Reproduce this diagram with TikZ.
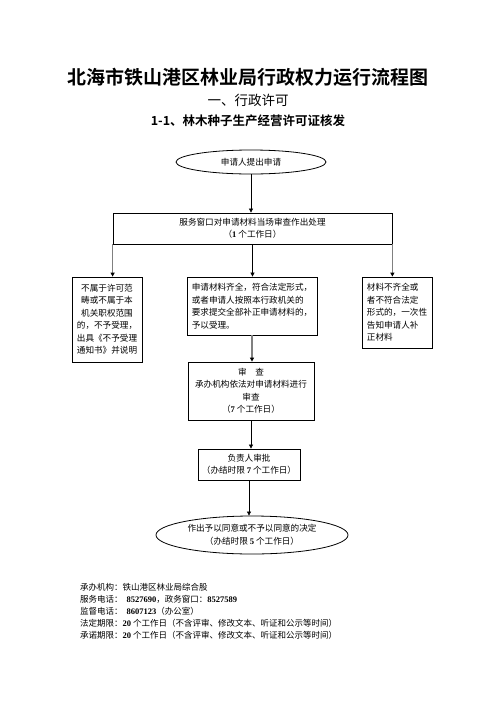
\documentclass[tikz,border=0pt]{standalone}
\usepackage{fontspec}
\usepackage{tikz}
\usetikzlibrary{arrows.meta,positioning,shapes.geometric,calc}
\newfontfamily\cjk[BoldFont={Noto Sans CJK SC Bold}]{Noto Sans CJK SC}
\newfontfamily\digf{Liberation Serif}
\newcommand{\dg}[1]{{\digf\bfseries #1}}

\begin{document}
\begin{tikzpicture}[
    x=1pt, y=-1pt,
    every node/.style={font=\cjk\fontsize{8.6}{12.5}\selectfont, inner sep=0pt},
    box/.style={draw, line width=0.8pt, align=center},
    oval/.style={draw, ellipse, line width=0.8pt, align=center},
    arr/.style={-{Triangle[length=4pt,width=4pt]}, line width=0.7pt},
    garr/.style={-{Triangle[length=4pt,width=4pt,color=black]}, line width=1.6pt, draw=black!50}
  ]
  \useasboundingbox (0,0) rectangle (496,702);

  % headings
  \node[font=\cjk\bfseries\fontsize{19}{19}\selectfont] (title) at (248,77) {北海市铁山港区林业局行政权力运行流程图};
  \node[font=\cjk\fontsize{13.5}{14}\selectfont] (sub) at (248,100) {一、行政许可};
  \node[font=\cjk\bfseries\fontsize{12.5}{13}\selectfont] (item) at (248,121) {1-1、林木种子生产经营许可证核发};

  % flow
  \node[oval, minimum width=150pt, minimum height=24pt] (apply) at (251,162) {申请人提出申请};
  \node[box, minimum width=279pt, minimum height=31pt] (window) at (252.5,228.5) {服务窗口对申请材料当场审查作出处理\\（\dg{1} 个工作日）};
  \node[box, minimum width=70pt, minimum height=85pt] (reject) at (107,319.5) {不属于许可范\\畴或不属于本\\机关职权范围\\的，不予受理，\\出具《不予受理\\通知书》并说明};
  \node[box, minimum width=130pt, minimum height=58pt, align=left] (accept) at (252,306) {申请材料齐全，符合法定形式，\\或者申请人按照本行政机关的\\要求提交全部补正申请材料的，\\予以受理。};
  \node[box, minimum width=70pt, minimum height=71pt, align=left] (notify) at (397,312.5) {材料不齐全或\\者不符合法定\\形式的，一次性\\告知申请人补\\正材料};
  \node[box, minimum width=126pt, minimum height=58pt] (review) at (251,391) {审\quad 查\\承办机构依法对申请材料进行\\审查\\（\dg{7} 个工作日）};
  \node[box, minimum width=102pt, minimum height=31pt] (approve) at (249,464.5) {负责人审批\\（办结时限 \dg{7} 个工作日）};
  \node[oval, minimum width=192pt, minimum height=38pt] (decide) at (252,535) {作出予以同意或不予以同意的决定\\（办结时限 \dg{5} 个工作日）};

  \draw[arr] (apply.south) -- (apply.south |- window.north);
  \draw[garr] (window.south west) -- (window.south west |- reject.north);
  \draw[arr] (window.south) -- (window.south |- accept.north);
  \draw[garr] (window.south east) -- (window.south east |- notify.north);
  \draw[garr] (accept.south) -- (accept.south |- review.north);
  \draw[arr] (review.south) -- (review.south |- approve.north);
  \draw[arr] (approve.south) -- (approve.south |- decide.north);

  % footer
  \node[anchor=north west, align=left, font=\cjk\fontsize{8.5}{12}\selectfont] (info) at (80,583) {%
    承办机构：铁山港区林业局综合股\\
    服务电话：\ \ \dg{8527690}，政务窗口：\dg{8527589}\\
    监督电话：\ \ \dg{8607123}（办公室）\\
    法定期限：\dg{20} 个工作日（不含评审、修改文本、听证和公示等时间）\\
    承诺期限：\dg{20} 个工作日（不含评审、修改文本、听证和公示等时间）};
\end{tikzpicture}
\end{document}
